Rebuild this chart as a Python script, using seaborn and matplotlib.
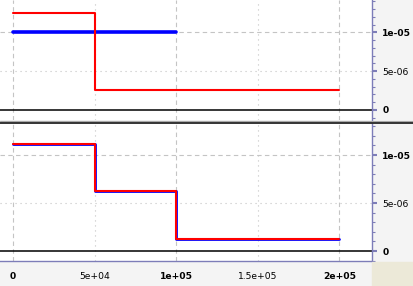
import matplotlib
matplotlib.use("Agg")
import matplotlib.pyplot as plt
import seaborn as sns
import pandas as pd
from matplotlib.ticker import FixedLocator, MultipleLocator
from matplotlib.lines import Line2D
from matplotlib.patches import Rectangle

# ---- data ----
top_red_breaks = [0, 50000, 200000]
top_red_levels = [1.25e-5, 2.53e-6]
top_blue_breaks = [0, 100000]
top_blue_levels = [1.0e-5]
bot_breaks = [0, 50000, 100000, 200000]
bot_red_levels = [1.115e-5, 6.22e-6, 1.22e-6]
bot_blue_levels = [1.11e-5, 6.2e-6, 1.2e-6]

x_ticks = [0, 50000, 100000, 150000, 200000]
x_labels = ["0", "5e+04", "1e+05", "1.5e+05", "2e+05"]
x_bold = [True, False, True, False, True]
y_ticks = [0, 5e-6, 1e-5]
y_labels = ["0", "5e-06", "1e-05"]
y_bold = [True, False, True]

sns.set_style("white")
plt.rcParams['font.family'] = ['DejaVu Sans']

LAV = '#7d7db8'
GRID = '#c4c4c4'
W, H = 413, 286

fig = plt.figure(figsize=(W / 100, H / 100), dpi=100, facecolor='#f4f4f4')

def rect(x0, y0, x1, y1):
    return [x0 / W, 1 - y1 / H, (x1 - x0) / W, (y1 - y0) / H]

fig.patches.append(Rectangle((371.5 / W, 0), (W - 371.5) / W, 24.5 / H,
                             transform=fig.transFigure, color='#ece9d8', zorder=0))

ax1 = fig.add_axes(rect(0, 0, 371.5, 120))
ax2 = fig.add_axes(rect(0, 124, 371.5, 261))

def steps(breaks, levels):
    return pd.DataFrame({"x": breaks, "y": list(levels) + [levels[-1]]})

def style(ax, ylim, show_x):
    ax.set_facecolor('white')
    ax.set_xlim(-7975, 219630)
    ax.set_ylim(*ylim)
    for s in ['top', 'left']:
        ax.spines[s].set_visible(False)
    ax.spines['right'].set_color(LAV)
    ax.spines['right'].set_linewidth(1.0)
    if show_x:
        ax.spines['bottom'].set_color(LAV)
        ax.spines['bottom'].set_linewidth(1.0)
    else:
        ax.spines['bottom'].set_visible(False)
    ax.yaxis.tick_right()
    ax.yaxis.set_major_locator(FixedLocator(y_ticks))
    ax.yaxis.set_minor_locator(MultipleLocator(1e-6))
    ax.set_yticklabels(y_labels)
    for lab, b in zip(ax.get_yticklabels(), y_bold):
        lab.set_fontweight('bold' if b else 'normal')
    ax.tick_params(axis='y', which='major', direction='out', length=3.8, width=1.5,
                   color=LAV, labelsize=6.6, pad=4, labelcolor='black')
    ax.tick_params(axis='y', which='minor', direction='out', length=2.4, width=0.8, color=LAV)
    ax.xaxis.set_major_locator(FixedLocator(x_ticks))
    ax.xaxis.set_minor_locator(MultipleLocator(10000))
    if show_x:
        ax.set_xticklabels(x_labels)
        for lab, b in zip(ax.get_xticklabels(), x_bold):
            lab.set_fontweight('bold' if b else 'normal')
        ax.tick_params(axis='x', which='major', direction='out', length=3.2, width=1.5,
                       color=LAV, labelsize=6.6, pad=4.5, labelcolor='black')
        ax.tick_params(axis='x', which='minor', direction='out', length=2.0, width=0.8, color=LAV)
    else:
        ax.tick_params(axis='x', which='both', bottom=False, labelbottom=False)
    ax.set_xlabel('')
    ax.set_ylabel('')
    # grid lines
    for xv, b in zip(x_ticks, x_bold):
        ax.axvline(xv, color=GRID, lw=0.8, ls=(0, (4, 3)) if b else (0, (1, 3.5)), zorder=0.5)
    for yv, b in zip(y_ticks[1:], y_bold[1:]):
        ax.axhline(yv, color=GRID, lw=0.8, ls=(0, (4, 3)) if b else (0, (1, 3.5)), zorder=0.5)
    ax.axhline(0, color='black', lw=1.1, zorder=1)

# top panel
d = steps(top_blue_breaks, top_blue_levels)
sns.lineplot(data=d, x="x", y="y", ax=ax1, color='#0000ff', lw=2.6, drawstyle='steps-post',
             estimator=None, sort=False, zorder=2)
d = steps(top_red_breaks, top_red_levels)
sns.lineplot(data=d, x="x", y="y", ax=ax1, color='#ff0000', lw=1.5, drawstyle='steps-post',
             estimator=None, sort=False, zorder=3)
style(ax1, (-1.29e-6, 1.416e-5), False)

# bottom panel
d = steps(bot_breaks, bot_blue_levels)
sns.lineplot(data=d, x="x", y="y", ax=ax2, color='#0000ff', lw=2.0, drawstyle='steps-post',
             estimator=None, sort=False, zorder=2)
d = steps(bot_breaks, bot_red_levels)
sns.lineplot(data=d, x="x", y="y", ax=ax2, color='#ff0000', lw=1.5, drawstyle='steps-post',
             estimator=None, sort=False, zorder=3)
style(ax2, (-1.04e-6, 1.323e-5), True)

# separator lines between panels
fig.add_artist(Line2D([0, 1], [1 - 120.7 / H] * 2, transform=fig.transFigure,
                      color='#a8a8a8', lw=0.8))
fig.add_artist(Line2D([0, 1], [1 - 123.0 / H] * 2, transform=fig.transFigure,
                      color='black', lw=1.1))

fig.savefig("out.png", dpi=100, facecolor=fig.get_facecolor())
